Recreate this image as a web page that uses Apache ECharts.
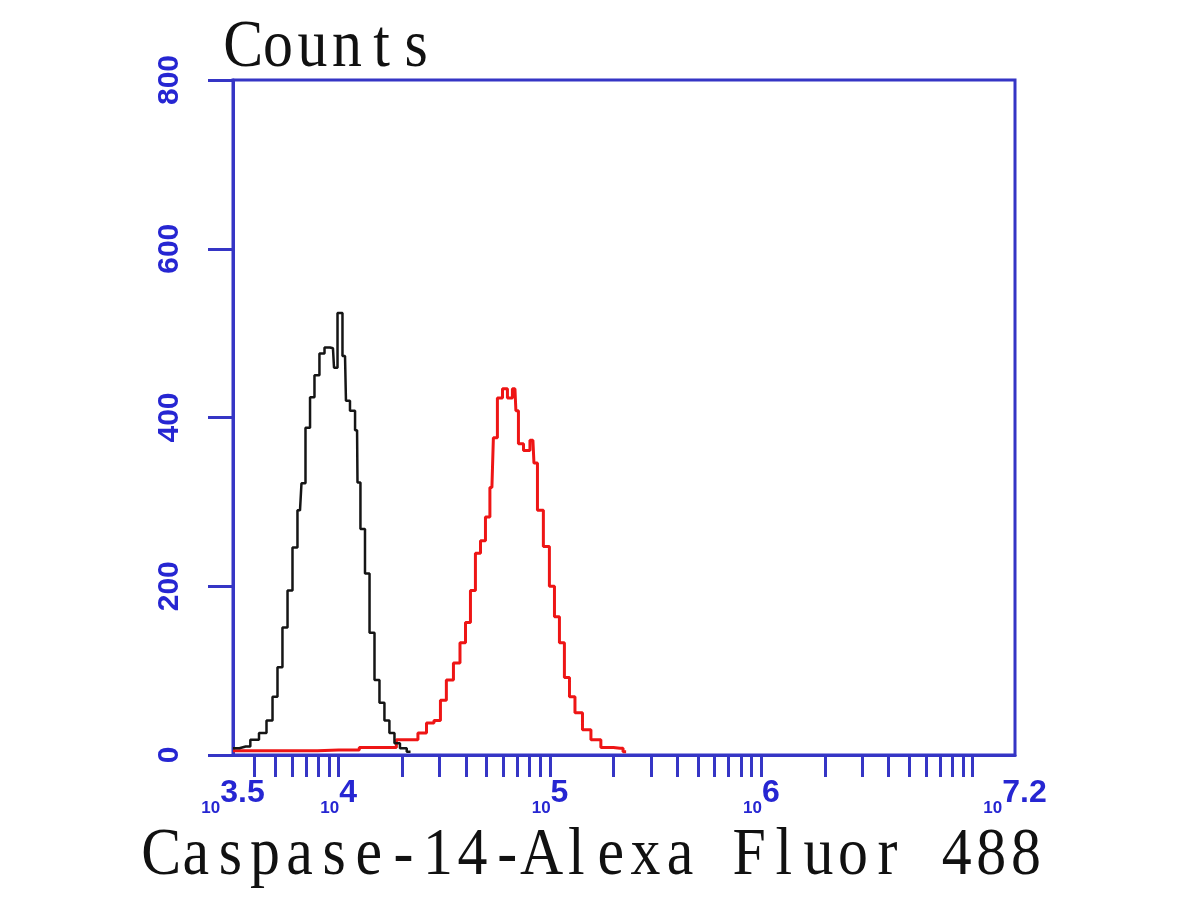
<!DOCTYPE html>
<html>
<head>
<meta charset="utf-8">
<script src="https://cdn.jsdelivr.net/npm/echarts@6/dist/echarts.min.js"></script>
<style>
html, body { margin: 0; padding: 0; background: #fff; }
#chart { width: 1200px; height: 900px; }
</style>
</head>
<body>
<div id="chart"></div>
<script>
// log10 of fluorescence intensity, counts
const blackX = [3.50, 3.56, 3.604, 3.642, 3.675, 3.699, 3.722, 3.746, 3.770, 3.793, 3.817, 3.831, 3.855, 3.874, 3.897, 3.921, 3.945, 3.973, 3.983, 4.006, 4.030, 4.039, 4.068, 4.087, 4.091, 4.115, 4.134, 4.158, 4.181, 4.205, 4.228, 4.252, 4.276, 4.304, 4.34]
const blackY = [8, 10, 18, 26, 41, 69, 104, 151, 195, 246, 290, 322, 388, 424, 450, 476, 483, 482, 459, 524, 473, 420, 408, 385, 323, 268, 215, 145, 89, 62, 41, 26, 14, 8, 4]

const redX = [3.50, 3.80, 4.00, 4.195, 4.351, 4.399, 4.432, 4.470, 4.493, 4.526, 4.560, 4.588, 4.612, 4.635, 4.659, 4.683, 4.706, 4.725, 4.739, 4.763, 4.787, 4.810, 4.834, 4.843, 4.858, 4.891, 4.919, 4.929, 4.952, 4.985, 5.009, 5.033, 5.056, 5.080, 5.104, 5.132, 5.175, 5.212, 5.269, 5.331, 5.36]
const redY = [5, 5, 6, 9, 18, 26, 38, 41, 65, 89, 109, 133, 157, 195, 239, 254, 282, 317, 376, 423, 434, 423, 434, 408, 369, 361, 373, 346, 290, 247, 200, 164, 133, 92, 69, 50, 30, 18, 9, 8, 4]

// minor/major tick marks on the log axis
const tickValues = [4000, 5000, 6000, 7000, 8000, 9000, 1e4,
    2e4, 3e4, 4e4, 5e4, 6e4, 7e4, 8e4, 9e4, 1e5,
    2e5, 3e5, 4e5, 5e5, 6e5, 7e5, 8e5, 9e5, 1e6,
    2e6, 3e6, 4e6, 5e6, 6e6, 7e6, 8e6, 9e6, 1e7]
const labelExps = [3.5, 4, 5, 6, 7.2]
const yTicks = [0, 200, 400, 600, 800]

const yTitle = 'Counts'
const xTitle = 'Caspase-14-Alexa Fluor 488'

const blue = '#3535c5'
const labelBlue = '#2626d2'

// serif text in fixed-width cells, like the original monospaced font
function monoText(str, x, y) {
    return {
        type: 'text',
        x: x,
        y: y,
        scaleX: 0.88,
        style: {
            text: str.split('').map(c => '{c|' + c + '}').join(''),
            verticalAlign: 'top',
            rich: {
                c: {
                    width: 39.3,
                    align: 'center',
                    lineHeight: 68,
                    font: '68px "Liberation Serif"',
                    fill: '#111'
                }
            }
        }
    }
}

let chart = echarts.init(document.getElementById('chart'))
chart.setOption({
    animation: false,
    backgroundColor: '#fff',
    grid: {
        left: 233, right: 185, top: 80, bottom: 145,
        show: true,
        borderColor: blue,
        borderWidth: 3
    },
    graphic: [
        monoText(yTitle, 226, 14),
        monoText(xTitle, 144, 822)
    ],
    xAxis: {
        type: 'value',
        min: 3.5,
        max: 7.2,
        splitLine: {show: false},
        axisLine: {lineStyle: {color: blue, width: 3}},
        axisTick: {
            customValues: tickValues.map(v => Math.log10(v)),
            length: 22,
            lineStyle: {color: blue, width: 3}
        },
        axisLabel: {
            customValues: labelExps,
            margin: 22,
            formatter: v => '{s|10}{e|' + v + '}',
            rich: {
                s: {fontSize: 17, fontWeight: 'bold', fontFamily: 'Liberation Sans', color: labelBlue, lineHeight: 16, verticalAlign: 'bottom'},
                e: {fontSize: 32, fontWeight: 'bold', fontFamily: 'Liberation Sans', color: labelBlue, lineHeight: 40, verticalAlign: 'top'}
            }
        }
    },
    yAxis: {
        type: 'value',
        min: 0,
        max: 800,
        interval: 200,
        splitLine: {show: false},
        axisLine: {lineStyle: {color: blue, width: 3}},
        axisTick: {length: 25, lineStyle: {color: blue, width: 3}},
        axisLabel: {
            customValues: yTicks,
            rotate: 90,
            margin: 48,
            fontSize: 30,
            fontWeight: 'bold',
            fontFamily: 'Liberation Sans',
            color: labelBlue
        }
    },
    series: [
        {
            name: 'red',
            type: 'line',
            step: 'middle',
            showSymbol: false,
            data: redX.map((x, i) => [x, redY[i]]),
            lineStyle: {color: '#ee1515', width: 3},
            z: 3
        },
        {
            name: 'black',
            type: 'line',
            step: 'middle',
            showSymbol: false,
            data: blackX.map((x, i) => [x, blackY[i]]),
            lineStyle: {color: '#151515', width: 2.5},
            z: 4
        }
    ]
})
</script>
</body>
</html>
